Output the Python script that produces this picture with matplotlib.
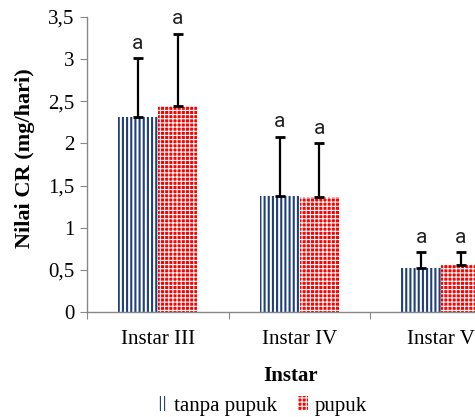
import matplotlib
matplotlib.use("Agg")
import matplotlib.pyplot as plt
from matplotlib.patches import Patch
import numpy as np

categories = ["Instar III", "Instar IV", "Instar V"]
tanpa_pupuk = [2.31, 1.38, 0.52]
pupuk = [2.44, 1.37, 0.56]
tanpa_pupuk_upper = [3.01, 2.08, 0.71]
pupuk_upper = [3.30, 2.00, 0.71]
letters_tanpa = ["a", "a", "a"]
letters_pupuk = ["a", "a", "a"]
yticks = [0, 0.5, 1, 1.5, 2, 2.5, 3, 3.5]
ytick_labels = ["0", "0,5", "1", "1,5", "2", "2,5", "3", "3,5"]

serif = "Liberation Serif"
navy = "#1F3F7A"
red = "#FF0000"
BLUE_LW = 1.5
RED_LW = 0.8


def set_hlw(artists, lw):
    for a in artists:
        if hasattr(a, "set_hatch_linewidth"):
            a.set_hatch_linewidth(lw)


fig = plt.figure(figsize=(4.75, 4.17), dpi=100)
ax = fig.add_axes([87/475, 105/417, 425/475, 295/417])

x = np.arange(len(categories)) + 0.5
w = 0.28

plt.rcParams['hatch.linewidth'] = BLUE_LW
b1 = ax.bar(x - w/2, tanpa_pupuk, w, color="white", edgecolor=navy, hatch="||||", linewidth=0)
set_hlw(b1, BLUE_LW)
plt.rcParams['hatch.linewidth'] = RED_LW
b2 = ax.bar(x + w/2, pupuk, w, color=red, edgecolor="white", hatch="++++", linewidth=0)
set_hlw(b2, RED_LW)

err_t = [np.zeros(3), np.array(tanpa_pupuk_upper) - np.array(tanpa_pupuk)]
err_p = [np.zeros(3), np.array(pupuk_upper) - np.array(pupuk)]
ax.errorbar(x - w/2, tanpa_pupuk, yerr=err_t, fmt="none", ecolor="black", elinewidth=1.6, capsize=3.6, capthick=2)
ax.errorbar(x + w/2, pupuk, yerr=err_p, fmt="none", ecolor="black", elinewidth=1.6, capsize=3.6, capthick=2)

for xi, yi, t in zip(x - w/2, tanpa_pupuk_upper, letters_tanpa):
    ax.annotate(t, (xi, yi), xytext=(0, 4), textcoords="offset points", ha="center", va="bottom",
                fontsize=15, family="Roboto", color="#222222")
for xi, yi, t in zip(x + w/2, pupuk_upper, letters_pupuk):
    ax.annotate(t, (xi, yi), xytext=(0, 4), textcoords="offset points", ha="center", va="bottom",
                fontsize=15, family="Roboto", color="#222222")

ax.set_xlim(0, 3)
ax.set_ylim(0, 3.5)
ax.set_yticks(yticks)
ax.set_yticklabels(ytick_labels, family=serif, fontsize=15)
ax.set_xticks([0, 1, 2, 3])
ax.set_xticklabels([])
ax.set_xticks(x, minor=True)
ax.set_xticklabels(categories, minor=True, family=serif, fontsize=15)
ax.tick_params(axis="x", which="minor", length=0, pad=13)
ax.tick_params(axis="x", which="major", length=5, color="#888888", direction="out")
ax.tick_params(axis="y", length=5, color="#888888", direction="out", pad=4)

for s in ["top", "right"]:
    ax.spines[s].set_visible(False)
for s in ["left", "bottom"]:
    ax.spines[s].set_color("#888888")
    ax.spines[s].set_linewidth(1.0)

ax.set_ylabel("Nilai CR (mg/hari)", family=serif, fontsize=16, fontweight="bold")
ax.yaxis.set_label_coords(-0.122, 0.52)
ax.set_xlabel("Instar", family=serif, fontsize=15, fontweight="bold")
ax.xaxis.set_label_coords(0.48, -0.183)

plt.rcParams['hatch.linewidth'] = BLUE_LW
h1 = Patch(facecolor="white", edgecolor=navy, hatch="||||", linewidth=0, label="tanpa pupuk")
set_hlw([h1], BLUE_LW)
plt.rcParams['hatch.linewidth'] = RED_LW
h2 = Patch(facecolor=red, edgecolor="white", hatch="++++", linewidth=0, label="pupuk")
set_hlw([h2], RED_LW)
fig.legend(handles=[h1, h2], loc="center", bbox_to_anchor=(262/475, 1 - 406/417), ncol=2, frameon=False,
           prop={"family": serif, "size": 15}, handlelength=0.5, handleheight=0.7, handletextpad=0.3,
           columnspacing=1.0)

fig.savefig("out.png", dpi=100)
